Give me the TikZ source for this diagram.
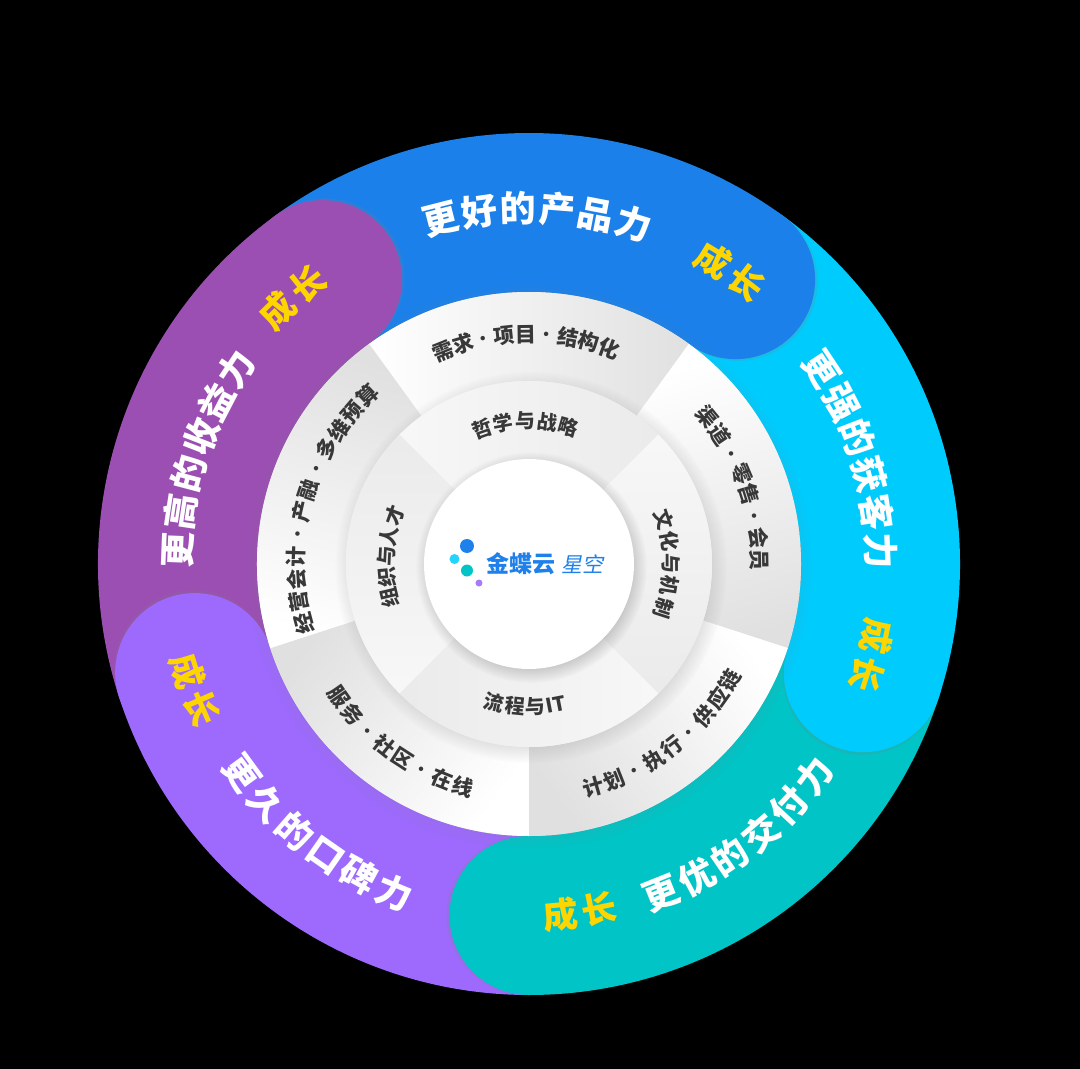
\documentclass[tikz,border=0pt]{standalone}
\usepackage{fontspec}
\setmainfont{Noto Sans CJK SC}[BoldFont={Noto Sans CJK SC Black}]
\newfontfamily\logoslant{Noto Sans CJK SC}[FakeSlant=0.2]
\usetikzlibrary{shadows}

\definecolor{cblue}{HTML}{1B80EA}
\definecolor{ccyan}{HTML}{00CBFD}
\definecolor{cteal}{HTML}{00C4C6}
\definecolor{cviolet}{HTML}{9D6AFD}
\definecolor{cpurple}{HTML}{9B4FB3}
\definecolor{cgold}{HTML}{FFD500}
\definecolor{cdark}{HTML}{383838}
\definecolor{clogo}{HTML}{1E80EA}

\tikzset{
  bandtxt/.style={text=white, font=\bfseries\fontsize{36}{40}\selectfont,
    inner sep=0pt, text height=31.7pt, text depth=4.3pt},
  growtxt/.style={text=cgold, font=\bfseries\fontsize{35}{39}\selectfont,
    inner sep=0pt, text height=30.8pt, text depth=4.2pt},
  ringtxt/.style={text=cdark, font=\bfseries\fontsize{21}{25}\selectfont,
    inner sep=0pt, text height=18.5pt, text depth=2.5pt},
  coretxt/.style={text=cdark, font=\bfseries\fontsize{20}{24}\selectfont,
    inner sep=0pt, text height=17.6pt, text depth=2.4pt},
  logotxt/.style={text=clogo, font=\fontsize{23}{27}\selectfont, inner sep=0pt},
}
\newcommand\sep{{\mdseries ·}}

% characters set one by one round the centre
\newcommand\ringtext[6]{%
  \foreach \ch [count=\idx] in {#6}{\xdef\nch{\idx}}
  \foreach \ch [count=\idx] in {#6}{
    \pgfmathsetmacro\ang{#3+(\idx-(\nch+1)/2)*(#4)}
    \pgfmathsetmacro\rot{\ang+90*sign(#4)}
    \node[#5, rotate=\rot] (#1-\idx) at (\ang:#2) {\ch};
  }%
}

\begin{document}
\begin{tikzpicture}[x=1pt, y=1pt]
  % black page
  \path[use as bounding box, fill=black] (-529,-505) rectangle (551,564);
  \def\Ro{431} \def\Ri{272} \def\Rm{351.5} \def\Rc{79.5}
  % draw coloured bands
  \foreach \s/\c in {126/cblue, 54/ccyan, -18/cteal, -90/cviolet, 198/cpurple}
    \fill[\c] (\s:\Ro) arc[start angle=\s, end angle=\s-72, radius=\Ro]
      -- ({\s-72}:\Ri) arc[start angle=\s-72, end angle=\s, radius=\Ri] -- cycle;
  % draw rounded ends
  \foreach \e/\c [evaluate=\e as \sx using {3*cos(\e-90)},
                  evaluate=\e as \sy using {3*sin(\e-90)}]
      in {54/cblue, -18/ccyan, -90/cteal, 198/cviolet, 126/cpurple}
    \fill[\c, drop shadow={opacity=.2, shadow xshift=\sx pt, shadow yshift=\sy pt}]
      (\e:\Rm) circle (\Rc);
  % band labels
  \ringtext{prod}{356}{88.6}{-6.3}{bandtxt}{更,好,的,产,品,力}
  \ringtext{cust}{352}{17.9}{-6.3}{bandtxt}{更,强,的,获,客,力}
  \ringtext{dlvr}{355}{-52.4}{6.3}{bandtxt}{更,优,的,交,付,力}
  \ringtext{rept}{355}{231.9}{6.3}{bandtxt}{更,久,的,口,碑,力}
  \ringtext{prft}{352}{162}{-6.3}{bandtxt}{更,高,的,收,益,力}
  \ringtext{gprod}{355}{55.5}{-6.4}{growtxt}{成,长}
  \ringtext{gcust}{355}{-14.9}{-6.4}{growtxt}{成,长}
  \ringtext{gdlvr}{352}{-81.7}{6.4}{growtxt}{成,长}
  \ringtext{grept}{358}{200.6}{6.4}{growtxt}{成,长}
  \ringtext{gprft}{357}{131.5}{-6.4}{growtxt}{成,长}
  % white ring
  \fill[white, circular drop shadow={shadow scale=1.04, shadow xshift=0pt,
    shadow yshift=-2pt, opacity=.3}] (0,0) circle (\Ri);
  \foreach \s [evaluate=\s as \m using \s-36] in {126, 54, -18, -90, 198}
    \shade[top color=white, bottom color=black!12, shading angle=\m]
      (\s:\Ri) arc[start angle=\s, end angle=\s-72, radius=\Ri]
      -- ({\s-72}:183) arc[start angle=\s-72, end angle=\s, radius=183] -- cycle;
  \ringtext{need}{230}{90.8}{-5.3}{ringtxt}{需,求,\sep,项,目,\sep,结,构,化}
  \ringtext{chnl}{231}{20.3}{-5.5}{ringtxt}{渠,道,\sep,零,售,\sep,会,员}
  \ringtext{plan}{232}{-52}{5.5}{ringtxt}{计,划,\sep,执,行,\sep,供,应,链}
  \ringtext{serv}{232}{234.2}{5.5}{ringtxt}{服,务,\sep,社,区,\sep,在,线}
  \ringtext{acct}{233}{164.3}{-5.56}{ringtxt}{经,营,会,计,\sep,产,融,\sep,多,维,预,算}
  % grey ring
  \fill[black!6, circular drop shadow={shadow scale=1.07, shadow xshift=2pt,
    shadow yshift=-3pt, opacity=.35}] (0,0) circle (183);
  \foreach \s [evaluate=\s as \m using \s-45] in {135, 45, -45, -135}
    \shade[top color=black!3, bottom color=black!8, shading angle=\m]
      (\s:183) arc[start angle=\s, end angle=\s-90, radius=183]
      -- ({\s-90}:105) arc[start angle=\s-90, end angle=\s, radius=105] -- cycle;
  \ringtext{phil}{143}{91.6}{-8.8}{coretxt}{哲,学,与,战,略}
  \ringtext{cult}{142}{0.2}{-9.1}{coretxt}{文,化,与,机,制}
  \ringtext{proc}{143}{268.5}{8.3}{coretxt}{流,程,与,IT}
  \ringtext{orgn}{143}{176.9}{-8.3}{coretxt}{组,织,与,人,才}
  % centre disc and logo
  \fill[white, circular drop shadow={shadow scale=1.1, shadow xshift=2pt,
    shadow yshift=-3pt, opacity=.4}] (0,0) circle (105);
  \fill[clogo] (-62,18) circle (7);
  \fill[ccyan!85!white] (-74.5,5) circle (5);
  \fill[cteal] (-62,-6.5) circle (6);
  \fill[cviolet!90!white] (-50,-19) circle (3.5);
  \node[logotxt] (logo) at (16,0) {{\bfseries 金蝶云}\hspace{6pt}{\logoslant\fontsize{21}{25}\selectfont 星空}};
\end{tikzpicture}
\end{document}
